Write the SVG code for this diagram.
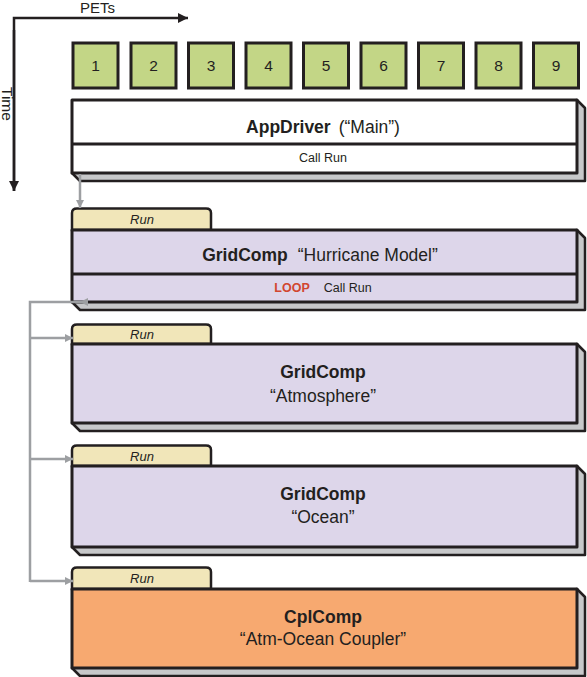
<svg xmlns="http://www.w3.org/2000/svg" width="587" height="677" viewBox="0 0 587 677">
<defs>
<style>
text{font-family:"Liberation Sans",Arial,sans-serif;fill:#231f20}
.ax{stroke:#231f20;stroke-width:2.5;fill:none}
.pet{fill:#c3d686;stroke:#231f20;stroke-width:3}
.num{font-size:15.5px;text-anchor:middle}
.sh{fill:#c7c8ca;stroke:#231f20;stroke-width:2.5;stroke-linejoin:round}
.bx{stroke:#231f20;stroke-width:3;stroke-linejoin:round}
.tab{fill:#f1e6b9;stroke:#231f20;stroke-width:2.5}
.run{font-size:13px;font-style:italic;text-anchor:middle}
.ttl{font-size:17.5px;text-anchor:middle}
.b{font-weight:bold}
.sm{font-size:12.5px;text-anchor:middle}
.con{stroke:#9d9fa2;stroke-width:2.5;fill:none}
</style>
<marker id="ah" viewBox="0 0 10 10" refX="10" refY="5" markerWidth="14" markerHeight="10" markerUnits="userSpaceOnUse" orient="auto"><path d="M0,0L10,5L0,10Z" fill="#231f20"/></marker>
<marker id="gh" viewBox="0 0 10 10" refX="10" refY="5" markerWidth="10" markerHeight="8" markerUnits="userSpaceOnUse" orient="auto"><path d="M0,0L10,5L0,10Z" fill="#9d9fa2"/></marker>
</defs>

<g id="axes">
<path class="ax" d="M14,191V18H188" marker-end="url(#ah)"/>
<path class="ax" d="M14,30V191" marker-end="url(#ah)"/>
<text x="80" y="13" font-size="15">PETs</text>
<text transform="translate(2,87) rotate(90)" font-size="15.5">Time</text>
</g>

<g id="pets">
<rect class="pet" x="73" y="43" width="45" height="45"/><text class="num" x="95.5" y="71">1</text>
<rect class="pet" x="131" y="43" width="45" height="45"/><text class="num" x="153.5" y="71">2</text>
<rect class="pet" x="188.5" y="43" width="45" height="45"/><text class="num" x="211" y="71">3</text>
<rect class="pet" x="246" y="43" width="45" height="45"/><text class="num" x="268.5" y="71">4</text>
<rect class="pet" x="303.5" y="43" width="45" height="45"/><text class="num" x="326" y="71">5</text>
<rect class="pet" x="361" y="43" width="45" height="45"/><text class="num" x="383.5" y="71">6</text>
<rect class="pet" x="418.5" y="43" width="45" height="45"/><text class="num" x="441" y="71">7</text>
<rect class="pet" x="476" y="43" width="45" height="45"/><text class="num" x="498.5" y="71">8</text>
<rect class="pet" x="533.5" y="43" width="45" height="45"/><text class="num" x="556" y="71">9</text>
</g>

<g id="appdriver">
<polygon class="sh" points="72,173 80,181 585,181 585,108 577,100"/>
<rect class="bx" x="72" y="100" width="505" height="73" fill="#fff"/>
<line class="bx" x1="72" y1="144" x2="577" y2="144"/>
<text class="ttl" x="323" y="133"><tspan class="b">AppDriver</tspan><tspan dx="8">(“Main”)</tspan></text>
<text class="sm" x="323" y="162">Call Run</text>
</g>

<g id="hurricane">
<polygon class="sh" points="72,302 80,310 585,310 585,238 577,230"/>
<path class="tab" d="M72,230V213Q72,208.5 77,208.5H206Q211,208.5 211,213V230Z"/>
<rect class="bx" x="72" y="230" width="505" height="72" fill="#ddd6ea"/>
<line class="bx" x1="72" y1="274" x2="577" y2="274"/>
<text class="run" x="142" y="224">Run</text>
<text class="ttl" x="320" y="261"><tspan class="b">GridComp</tspan><tspan dx="10">“Hurricane Model”</tspan></text>
<text class="sm" x="323" y="292"><tspan class="b" fill="#d2462f">LOOP</tspan><tspan dx="14">Call Run</tspan></text>
</g>

<g id="atmosphere">
<polygon class="sh" points="72,423 80,431 585,431 585,352 577,344"/>
<path class="tab" d="M72,344V329Q72,324.5 77,324.5H206Q211,324.5 211,329V344Z"/>
<rect class="bx" x="72" y="344" width="505" height="79" fill="#ddd6ea"/>
<text class="run" x="142" y="339">Run</text>
<text class="ttl b" x="323" y="378">GridComp</text>
<text class="ttl" x="323" y="402">“Atmosphere”</text>
</g>

<g id="ocean">
<polygon class="sh" points="72,547 80,555 585,555 585,474 577,466"/>
<path class="tab" d="M72,466V450Q72,445.5 77,445.5H206Q211,445.5 211,450V466Z"/>
<rect class="bx" x="72" y="466" width="505" height="81" fill="#ddd6ea"/>
<text class="run" x="142" y="461">Run</text>
<text class="ttl b" x="323" y="500">GridComp</text>
<text class="ttl" x="323" y="523">“Ocean”</text>
</g>

<g id="coupler">
<polygon class="sh" points="72,668 80,676 585,676 585,597 577,589"/>
<path class="tab" d="M72,589V572Q72,567.5 77,567.5H206Q211,567.5 211,572V589Z"/>
<rect class="bx" x="72" y="589" width="505" height="79" fill="#f7a970"/>
<text class="run" x="142" y="583">Run</text>
<text class="ttl b" x="323" y="623">CplComp</text>
<text class="ttl" x="323" y="645">“Atm-Ocean Coupler”</text>
</g>

<g id="connectors">
<path class="con" d="M80,174V208" marker-end="url(#gh)"/>
<path class="con" d="M88,302H30V582"/>
<path d="M80,302L88,298L88,306Z" fill="#9d9fa2"/>
<path class="con" d="M30,338H73" marker-end="url(#gh)"/>
<path class="con" d="M30,459H73" marker-end="url(#gh)"/>
<path class="con" d="M30,581H73" marker-end="url(#gh)"/>
</g>
</svg>
